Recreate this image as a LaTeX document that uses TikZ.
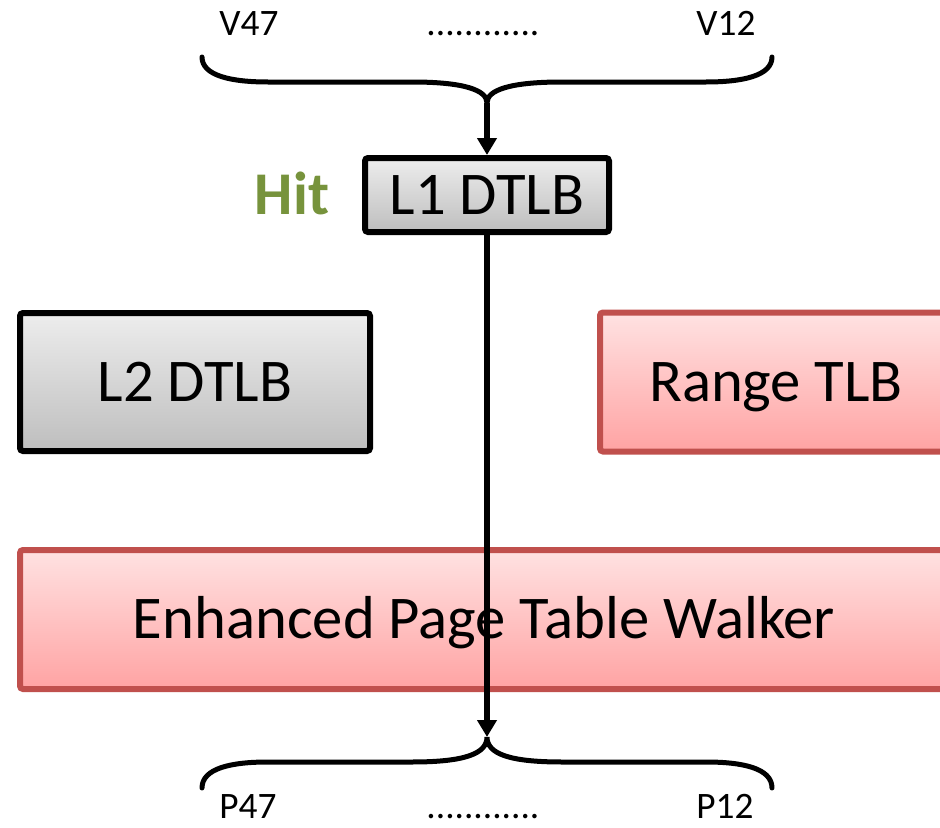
\documentclass[tikz,border=0pt]{standalone}
\usepackage{fontspec}
\setmainfont{Carlito}
\usetikzlibrary{arrows.meta}
\definecolor{redborder}{HTML}{C0504D}
\definecolor{redtop}{HTML}{FFE2E2}
\definecolor{redbot}{HTML}{FFA3A3}
\definecolor{graytop}{HTML}{EDEDED}
\definecolor{graybot}{HTML}{BEBEBE}
\definecolor{hitgreen}{HTML}{77933C}
\tikzset{
  bigtext/.style={font=\fontsize{45.5}{54}\selectfont, text height=29pt, text depth=0pt, inner sep=0pt},
  smalltext/.style={font=\fontsize{28}{32}\selectfont, inner sep=0pt, anchor=base},
  graybox/.style={bigtext, draw=black, line width=4.5pt, rounded corners=2.25pt, top color=graytop, bottom color=graybot},
  redbox/.style={bigtext, draw=redborder, line width=4.5pt, rounded corners=2.25pt, top color=redtop, bottom color=redbot},
  bracepath/.style={line width=3.75pt, line cap=round},
  flow/.style={line width=4.5pt, -{Triangle[length=12.75pt, width=14.25pt]}},
}
\begin{document}
\begin{tikzpicture}[x=0.75pt, y=-0.75pt]
\useasboundingbox (0,0) rectangle (940,828);
% labels at top and bottom
\node[smalltext] (v47) at (249,36) {V47};
\node[smalltext] (vdots) at (483,36) {............};
\node[smalltext] (v12) at (726,36) {V12};
\node[smalltext] (p47) at (248,818) {P47};
\node[smalltext] (pdots) at (483,818) {............};
\node[smalltext] (p12) at (725,818) {P12};
% boxes
\node[graybox, minimum width=183pt, minimum height=55.5pt] (l1) at (487,195) {L1 DTLB};
\node[bigtext, font=\fontsize{45.5}{54}\selectfont\bfseries, text=hitgreen] (hit) at (292,195) {Hit};
\node[graybox, minimum width=262.5pt, minimum height=103.5pt] (l2) at (195,382) {L2 DTLB};
\node[redbox, minimum width=264pt, minimum height=104.25pt] (rtlb) at (776,382) {Range TLB};
\node[redbox, minimum width=696pt, minimum height=104.25pt] (eptw) at (484,619.5) {Enhanced Page Table Walker};
% braces
\coordinate (tc) at (487,103);
\coordinate (bc) at (487,737);
\draw[bracepath] (202,57) .. controls (202,76) and (232,82) .. (268,82) -- (412,82) .. controls (464,82) and (487,90) .. (tc)
  .. controls (487,90) and (510,82) .. (562,82) -- (706,82) .. controls (742,82) and (772,76) .. (772,57);
\draw[bracepath] (202,788) .. controls (202,768) and (232,762) .. (268,762) -- (412,762) .. controls (464,762) and (487,754) .. (bc)
  .. controls (487,754) and (510,762) .. (562,762) -- (706,762) .. controls (742,762) and (772,768) .. (772,788);
% connectors
\draw[flow] (tc) -- (l1.north);
\draw[flow] (l1.south) -- (bc);
\end{tikzpicture}
\end{document}
